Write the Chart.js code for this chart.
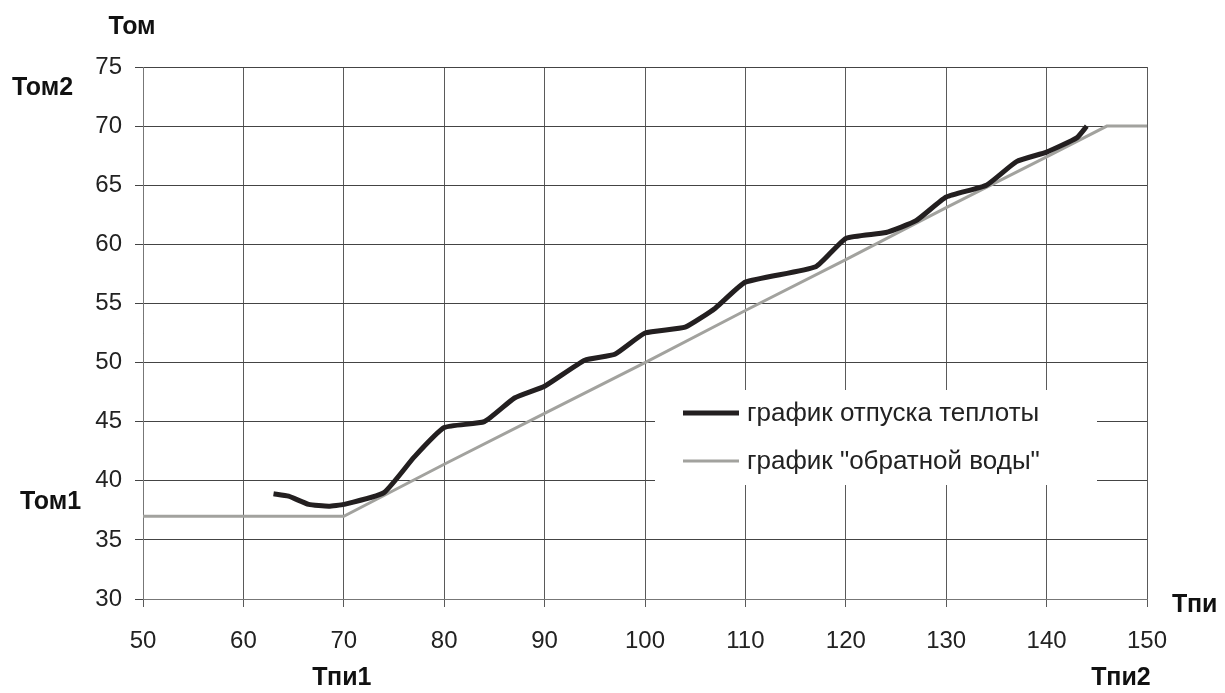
<!DOCTYPE html>
<html>
<head>
<meta charset="utf-8">
<script src="https://cdn.jsdelivr.net/npm/chart.js@4/dist/chart.umd.min.js"></script>
<style>
  html, body { margin: 0; padding: 0; background: #fff; }
  #wrap { width: 1225px; height: 693px; position: relative; }
</style>
</head>
<body>
<div id="wrap"><canvas id="chart"></canvas></div>
<script>
// heat supply curve (Тпи -> Том)
const heatX = [63, 64.5, 66.5, 68.5, 70, 74, 77, 80, 84, 87, 90, 94, 97, 100, 104, 107, 110, 117, 120, 124, 127, 130, 134, 137, 140, 143, 144];
const heatY = [38.9, 38.7, 38, 37.85, 38, 39, 42, 44.5, 45, 47, 48, 50.2, 50.7, 52.5, 53, 54.6, 56.8, 58.1, 60.5, 61, 62, 64, 65, 67, 67.8, 69, 70];
// return water curve
const returnX = [50, 70, 80, 90, 100, 110, 120, 130, 140, 146, 150];
const returnY = [37, 37, 41.4, 45.7, 50, 54.4, 58.7, 63.1, 67.4, 70, 70];

const seriesNames = ['график отпуска теплоты', 'график "обратной воды"'];
const xTicks = [50, 60, 70, 80, 90, 100, 110, 120, 130, 140, 150];
const yTicks = [30, 35, 40, 45, 50, 55, 60, 65, 70, 75];

const toPoints = (xs, ys) => xs.map((x, i) => ({ x: x, y: ys[i] }));

// extra axis captions + legend box drawn on the canvas
const extras = {
  id: 'extras',
  afterDraw(chart) {
    const ctx = chart.ctx;
    const xs = chart.scales.x, ys = chart.scales.y;
    ctx.save();
    ctx.fillStyle = '#111';
    ctx.font = 'bold 25px "Liberation Sans", Arial, sans-serif';
    ctx.textBaseline = 'middle';
    ctx.textAlign = 'center';
    ctx.fillText('Том', 132, 27);
    ctx.fillText('Тпи1', xs.getPixelForValue(70) - 2, 678);
    ctx.fillText('Тпи2', xs.getPixelForValue(150) - 26, 678);
    ctx.textAlign = 'left';
    ctx.fillText('Тпи', 1172, 605);
    ctx.fillText('Том2', 12, 88);
    ctx.fillText('Том1', 20, 502);

    // legend
    const lx = 655, ly = 390, lw = 442, lh = 95;
    ctx.fillStyle = '#fff';
    ctx.fillRect(lx, ly, lw, lh);
    ctx.font = '26px "Liberation Sans", Arial, sans-serif';
    chart.data.datasets.forEach((ds, i) => {
      const yy = 413 + i * 48;
      ctx.strokeStyle = ds.borderColor;
      ctx.lineWidth = ds.borderWidth;
      ctx.beginPath();
      ctx.moveTo(683, yy);
      ctx.lineTo(739, yy);
      ctx.stroke();
      ctx.fillStyle = '#222';
      ctx.fillText(ds.label, 747, yy + 1);
    });
    ctx.restore();
  }
};

new Chart(document.getElementById('chart'), {
  type: 'line',
  data: {
    datasets: [
      {
        label: seriesNames[0],
        data: toPoints(heatX, heatY),
        borderColor: '#231f20',
        borderWidth: 5,
        pointRadius: 0,
        tension: 0.15,
        order: 1
      },
      {
        label: seriesNames[1],
        data: toPoints(returnX, returnY),
        borderColor: '#a2a29e',
        borderWidth: 3,
        pointRadius: 0,
        tension: 0,
        order: 2
      }
    ]
  },
  options: {
    responsive: true,
    maintainAspectRatio: false,
    animation: false,
    layout: { padding: { left: 0, right: 78, top: 67, bottom: 0 } },
    plugins: {
      legend: { display: false },
      tooltip: { enabled: false }
    },
    scales: {
      x: {
        type: 'linear',
        min: 50, max: 150,
        afterBuildTicks: s => { s.ticks = xTicks.map(v => ({ value: v })); },
        afterFit: s => { s.height = 94; },
        grid: { color: '#5a5a5a', lineWidth: 1, tickLength: 8, drawTicks: true },
        border: { display: true, color: '#777', width: 1 },
        ticks: {
          color: '#222',
          padding: 20,
          maxRotation: 0,
          font: { family: '"Liberation Sans", Arial, sans-serif', size: 24 }
        }
      },
      y: {
        type: 'linear',
        min: 30, max: 75,
        afterBuildTicks: s => { s.ticks = yTicks.map(v => ({ value: v })); },
        afterFit: s => { s.width = 143; },
        grid: { color: '#444', lineWidth: 1, tickLength: 8, drawTicks: true },
        border: { display: true, color: '#777', width: 1 },
        ticks: {
          color: '#222',
          padding: 13,
          font: { family: '"Liberation Sans", Arial, sans-serif', size: 24 }
        }
      }
    }
  },
  plugins: [extras]
});
</script>
</body>
</html>
